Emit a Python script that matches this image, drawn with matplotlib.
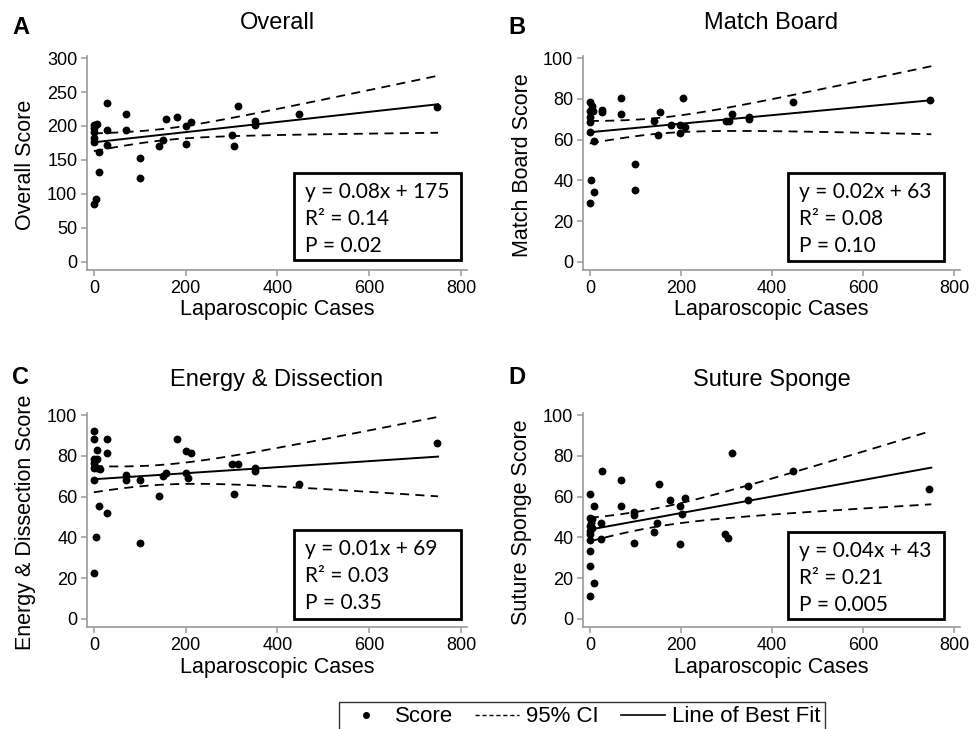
import numpy as np
import matplotlib
matplotlib.use("Agg")
import matplotlib.pyplot as plt
from matplotlib.patches import Rectangle
from matplotlib.lines import Line2D

plt.rcParams["font.family"] = ["Liberation Sans", "DejaVu Sans"]

W, H = 979, 729

# ------------------------------------------------------------------ data
# laparoscopic cases (x) and scores (y)
xa = [1, 7, 1, 1, 1, 1, 29, 28, 28, 12, 12, 4, 1, 71, 71, 101, 101, 142, 151,
      157, 182, 200, 200, 211, 301, 306, 315, 351, 351, 448, 747]
ya = [201, 203, 197, 191, 183, 176, 234, 194, 172, 161, 132, 92, 85, 218, 194,
      153, 123, 171, 180, 210, 213, 200, 174, 206, 186, 170, 229, 208, 202, 217, 228]

xb = [0, 5, 0, 7, 0, 0, 0, 9, 2, 9, 0, 26, 26, 69, 69, 100, 100, 140, 150, 155,
      179, 199, 199, 204, 209, 298, 305, 313, 349, 349, 447, 748]
yb = [78.2, 76.7, 73.9, 74, 71.3, 68.5, 63.6, 59.2, 40.2, 34.1, 29, 74.3, 73.4,
      80.3, 72.3, 48, 35.2, 69.2, 62.3, 73.3, 67.2, 67.2, 63.3, 80.3, 66.4, 69.2,
      69.2, 72.3, 71.3, 70, 78.2, 79.3]

xc = [1, 1, 6, 29, 28, 1, 7, 1, 1, 7, 13, 1, 12, 28, 4, 1, 71, 71, 101, 101, 142,
      151, 158, 182, 200, 211, 200, 204, 300, 315, 305, 351, 351, 448, 747]
yc = [92.3, 88.2, 82.9, 88.2, 81.3, 78.3, 78.3, 76.7, 74.2, 74.2, 73.7, 68.1,
      55.3, 52, 40.2, 22.3, 70.4, 68.1, 68.1, 37.3, 60.3, 70.1, 71.4, 88.2, 82.4,
      81.6, 71.4, 69.1, 76.2, 76.2, 61.4, 74.2, 72.4, 66, 86.2]

xd = [0, 0, 4, 3, 0, 4, 0, 0, 0, 0, 0, 9, 1, 9, 26, 24, 24, 68, 68, 98, 98, 98,
      140, 148, 153, 177, 197, 197, 202, 208, 296, 303, 312, 347, 347, 446, 746]
yd = [61.4, 49.6, 48.8, 47.1, 45.8, 44.5, 43.3, 41.4, 38.9, 33.2, 26.1, 17.4, 11,
      55.2, 72.4, 47.1, 39.2, 68.1, 55.2, 52.2, 51, 37.3, 42.5, 47.1, 66.3, 58.3,
      55.3, 36.5, 51.2, 59.4, 41.7, 39.6, 81.6, 65.2, 58.3, 72.4, 63.5]

# fitted line as drawn: value at x=0 and at x=750
fit_start = [176, 63.6, 68.5, 43.8]
fit_end = [232, 79.3, 79.6, 74.2]
# 95% CI half-width as drawn at x=0 and at x=750
ci_start = [13, 5.5, 6.4, 5.75]
ci_end = [42, 16.7, 19.5, 18]

letters = ["A", "B", "C", "D"]
titles = ["Overall", "Match Board", "Energy & Dissection", "Suture Sponge"]
ylabels = ["Overall Score", "Match Board Score", "Energy & Dissection Score",
           "Suture Sponge Score"]
ymax = [300, 100, 100, 100]
ystep = [50, 20, 20, 20]
stats = [["y = 0.08x + 175", "R\u00b2 = 0.14", "P = 0.02"],
         ["y = 0.02x + 63", "R\u00b2 = 0.08", "P = 0.10"],
         ["y = 0.01x + 69", "R\u00b2 = 0.03", "P = 0.35"],
         ["y = 0.04x + 43", "R\u00b2 = 0.21", "P = 0.005"]]
xs = [xa, xb, xc, xd]
ys = [ya, yb, yc, yd]

# ------------------------------------------------------------------ layout (pixels)
# left, right, top, bottom of each axes
BOXES = [(87, 467, 56, 270), (583, 960, 56, 270),
         (87, 467, 413, 627), (583, 960, 413, 627)]
# stat box: left, right, top, bottom
STATBOX = [(294, 461, 173, 260), (788, 944, 173, 261),
           (294, 461, 530, 619), (788, 944, 532, 619)]
LETTER_Y = [28, 28, 378, 378]
GREY = "#9a9a9a"
XEND = 750


def fx(p):
    return p / W


def fy(p):
    return 1 - p / H


fig = plt.figure(figsize=(W / 100, H / 100), dpi=100)

for i in range(4):
    l, r, t, b = BOXES[i]
    ax = fig.add_axes([fx(l), fy(b), (r - l) / W, (b - t) / H])
    x = np.array(xs[i], float)
    y = np.array(ys[i], float)

    # line of best fit and hyperbolic 95% CI band through the read half-widths
    xm = x.mean()
    k = (ci_end[i] ** 2 - ci_start[i] ** 2) / (XEND * (XEND - 2 * xm))
    h0 = ci_start[i] ** 2 - k * xm ** 2
    xg = np.linspace(0, XEND, 200)
    yg = fit_start[i] + (fit_end[i] - fit_start[i]) * xg / XEND
    hw = np.sqrt(h0 + k * (xg - xm) ** 2)

    ax.plot(xg, yg + hw, color="black", lw=1.3, ls=(0, (5, 3.5)))
    ax.plot(xg, yg - hw, color="black", lw=1.3, ls=(0, (5, 3.5)))
    ax.plot(xg, yg, color="black", lw=1.4)
    ax.scatter(x, y, s=32, color="black", zorder=3, linewidths=0)

    ax.set_xlim(-15, 813)
    ax.set_ylim(-0.04 * ymax[i], ymax[i] * 1.01)
    ax.set_xticks(range(0, 801, 200))
    ax.set_yticks(np.arange(0, ymax[i] + 1, ystep[i]))
    for sp in ["top", "right"]:
        ax.spines[sp].set_visible(False)
    for sp in ["left", "bottom"]:
        ax.spines[sp].set_color(GREY)
        ax.spines[sp].set_linewidth(1.2)
    ax.tick_params(colors=GREY, labelcolor="black", labelsize=13, length=4,
                   width=1.1, pad=3)

    cx = (l + r) / 2
    fig.text(fx(l - 61), fy((t + b) / 2 + 2), ylabels[i], rotation=90,
             ha="center", va="center", fontsize=15.5)
    fig.text(fx(cx), fy(t - 33), titles[i], ha="center", va="center", fontsize=17)
    fig.text(fx(cx), fy(b + 40), "Laparoscopic Cases", ha="center", va="center",
             fontsize=15.5)
    fig.text(fx(l - 75), fy(LETTER_Y[i]), letters[i],
             ha="left", va="center", fontsize=17, fontweight="bold")

    # statistics box
    bl, br, bt, bb = STATBOX[i]
    ax.add_patch(Rectangle((fx(bl), fy(bb)), (br - bl) / W, (bb - bt) / H,
                           transform=fig.transFigure, fill=False, edgecolor="black",
                           linewidth=2.0, clip_on=False, zorder=5))
    for k2, line in enumerate(stats[i]):
        fig.text(fx(bl + 11), fy(bt + 19 + 27 * k2), line, ha="left", va="center",
                 fontsize=15, family=["Lato", "DejaVu Sans"])

# legend at bottom
handles = [Line2D([], [], ls="none", marker="o", markersize=4, color="black"),
           Line2D([], [], ls=(0, (3, 2)), lw=1.0, color="black"),
           Line2D([], [], ls="-", lw=1.2, color="black")]
leg = fig.legend(handles, ["Score", "95% CI", "Line of Best Fit"], ncol=3,
                 loc="upper center", bbox_to_anchor=(fx(582), fy(702)),
                 fontsize=16, frameon=True, fancybox=False, edgecolor="black",
                 handlelength=2.0, handletextpad=0.3, columnspacing=1.0,
                 borderpad=0.2, borderaxespad=0)
leg.get_frame().set_linewidth(1.0)

fig.savefig("out.png", dpi=100)
